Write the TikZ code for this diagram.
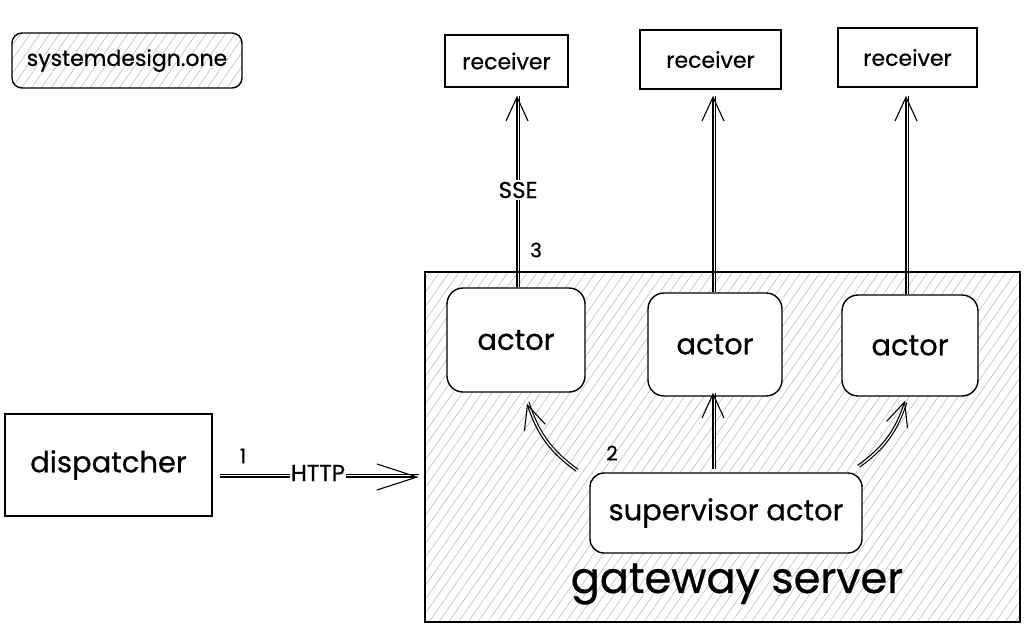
\documentclass[tikz,border=0pt]{standalone}
\usepackage{fontspec}
\setmainfont{Poppins}[FakeBold=0.6]
\usetikzlibrary{patterns.meta,arrows.meta,calc}
\begin{document}
\begin{tikzpicture}[x=1pt,y=-1pt,
  sk/.style={draw=black, line width=1.4pt},
  hatch/.style={pattern={Lines[angle=55,distance=8pt,line width=0.5pt]}, pattern color=black!28},
  plainbox/.style={sk, inner sep=0pt, fill=white},
  roundbox/.style={sk, inner sep=0pt, fill=white, rounded corners=16pt},
  lbl/.style={font=\fontsize{22}{26}\selectfont},
  big/.style={font=\fontsize{29}{34}\selectfont},
  arr/.style={draw=black, line width=1.1pt,
    -{Straight Barb[length=24pt,width=22pt,line width=1.1pt]}},
  bigarr/.style={draw=black, line width=1.1pt,
    -{Straight Barb[length=40pt,width=26pt,line width=1.1pt]}},
  twinx/.style={postaction={draw=black, line width=1pt, -, transform canvas={xshift=2.6pt}}},
  twiny/.style={postaction={draw=black, line width=1pt, -, transform canvas={yshift=2.6pt}}},
  twinl/.style={postaction={draw=black, line width=1pt, -, transform canvas={xshift=1.9pt,yshift=1.9pt}}},
  twinr/.style={postaction={draw=black, line width=1pt, -, transform canvas={xshift=1.9pt,yshift=-1.9pt}}},
  num/.style={font=\fontsize{20}{24}\selectfont, inner sep=1pt}
]
\useasboundingbox[fill=white] (0,0) rectangle (1035,635);

% gateway server
\node[sk, hatch, inner sep=0pt, minimum width=595pt, minimum height=350pt] (gw) at (722.5,447) {};
\node[font=\fontsize{43}{50}\selectfont] (gwlabel) at (737,584) {gateway server};

% brand
\node[sk, hatch, rounded corners=10pt, inner sep=0pt, minimum width=230pt, minimum height=55pt, lbl] (sys) at (127,60.5) {systemdesign.one};

% receivers
\node[plainbox, minimum width=123pt, minimum height=52pt, lbl] (rec1) at (506.5,61) {receiver};
\node[plainbox, minimum width=141pt, minimum height=59pt, lbl] (rec2) at (710.5,59.5) {receiver};
\node[plainbox, minimum width=139pt, minimum height=59pt, lbl] (rec3) at (907.5,57.5) {receiver};

% actors
\node[roundbox, minimum width=138pt, minimum height=104pt, big] (act1) at (516,340) {actor};
\node[roundbox, minimum width=134pt, minimum height=103pt, big] (act2) at (715,344.5) {actor};
\node[roundbox, minimum width=136pt, minimum height=101pt, big] (act3) at (910,345.5) {actor};

% supervisor
\node[roundbox, rounded corners=14pt, minimum width=272pt, minimum height=80pt, big] (sup) at (726,513) {supervisor actor};

% dispatcher
\node[plainbox, minimum width=207pt, minimum height=102pt, big] (disp) at (108.5,465) {dispatcher};

% actor -> receiver
\draw[arr, twinx] ($(act1.north)+(1,0)$) -- ($(act1.north |- rec1.south)+(1,8)$);
\node[fill=white, inner sep=2pt, font=\fontsize{23}{27}\selectfont] (sse) at (518,190) {SSE};
\node[num] (n3) at (536,250) {3};
\draw[arr, twinx] ($(act2.north)+(-2,0)$) -- ($(act2.north |- rec2.south)+(-2,6)$);
\draw[arr, twinx] ($(act3.north)+(-4,0)$) -- ($(act3.north |- rec3.south)+(-4,8)$);

% supervisor -> actors
\draw[arr, twinl] ($(sup.north west)+(-13,-1)$) to[bend left=18] ($(act1.south)+(11,11)$);
\node[num] (n2) at (612,453) {2};
\draw[arr, twinx] ($(sup.north)+(-13,-3)$) -- ($(act2.south)+(-2,-4)$);
\draw[arr, twinr] ($(sup.north east)+(-5,-7)$) to[bend right=18] ($(act3.south)+(-5,4)$);

% dispatcher -> gateway
\draw[bigarr, twiny] ($(disp.east)+(7,12)$) -- ($(gw.west |- disp.east)+(-6,12)$);
\node[fill=white, inner sep=1pt, font=\fontsize{23}{27}\selectfont] (http) at (318,473) {HTTP};
\node[num] (n1) at (243,456) {1};
\end{tikzpicture}
\end{document}
